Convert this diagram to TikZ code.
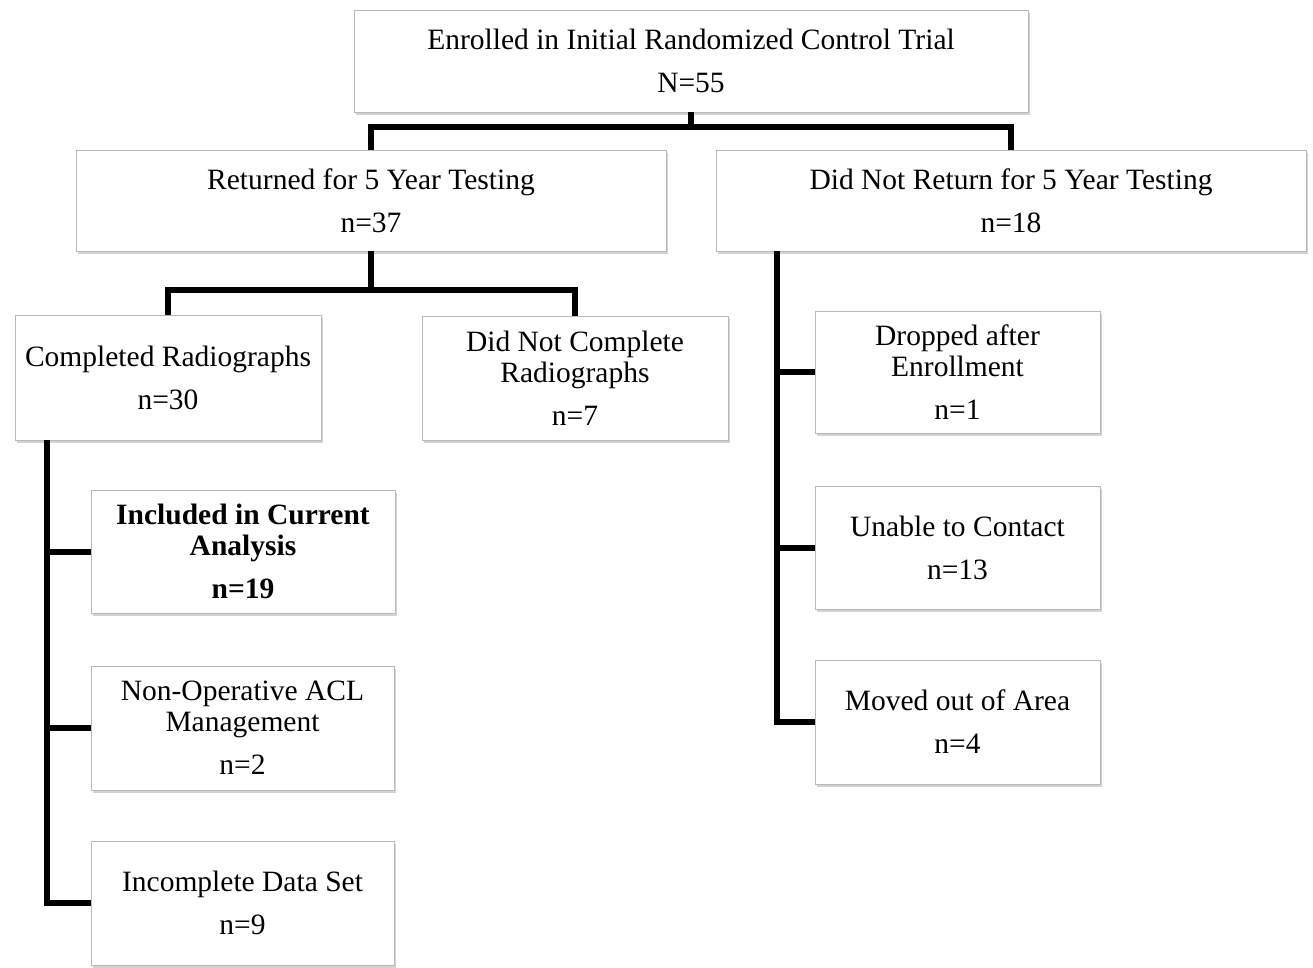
\documentclass[tikz,border=0pt]{standalone}
\usepackage{fontspec}
\setmainfont{Liberation Serif}
\usetikzlibrary{shadows}
\tikzset{
  box/.style={draw=gray!55, line width=0.8pt, fill=white, inner sep=0pt, align=center,
    font=\fontsize{29.5}{31}\selectfont,
    drop shadow={shadow xshift=2pt, shadow yshift=-3pt, opacity=0.35, fill=gray}},
  conn/.style={draw=black, line width=6pt}
}
\newcommand{\bx}[7]{% name x1 y1 x2 y2 text extra
  \node[box, minimum width={#4-#2}, minimum height={#5-#3}, #7] (#1) at ({(#2+#4)/2},{(#3+#5)/2}) {#6};}
\begin{document}
\begin{tikzpicture}[x=1pt,y=-1pt]
\useasboundingbox (0,0) rectangle (1313,967);
% boxes
\bx{top}{354}{10}{1028}{112}{Enrolled in Initial Randomized Control Trial\\[12pt]N=55}{}
\bx{ret}{76}{150}{666}{251}{Returned for 5 Year Testing\\[12pt]n=37}{}
\bx{dnr}{716}{150}{1306}{251}{Did Not Return for 5 Year Testing\\[12pt]n=18}{}
\bx{comp}{15}{315}{321}{440}{Completed Radiographs\\[12pt]n=30}{}
\bx{dnc}{422}{316}{728}{440}{Did Not Complete\\Radiographs\\[12pt]n=7}{}
\bx{drop}{815}{311}{1100}{433}{Dropped after\\Enrollment\\[12pt]n=1}{}
\bx{unab}{815}{486}{1100}{609}{Unable to Contact\\[12pt]n=13}{}
\bx{moved}{815}{660}{1100}{784}{Moved out of Area\\[12pt]n=4}{}
\bx{incl}{91}{490}{395}{613}{Included in Current\\Analysis\\[12pt]n=19}{font=\fontsize{29.5}{31}\selectfont\bfseries}
\bx{nonop}{91}{666}{394}{790}{Non-Operative ACL\\Management\\[12pt]n=2}{}
\bx{incdata}{91}{841}{394}{965}{Incomplete Data Set\\[12pt]n=9}{}
% junction coordinates
\coordinate (j1) at (691,127);
\coordinate (j2) at (371,290);
\coordinate (v1) at (777,0);
\coordinate (v2) at (47,0);
% connectors
\draw[conn] (top.south) -- (j1);
\draw[conn] (ret.north) |- (j1) -| (dnr.north);
\draw[conn] (ret.south) -- (j2);
\draw[conn] (comp.north) |- (j2) -| (dnc.north);
\draw[conn] (dnr.south -| v1) |- (moved.west);
\draw[conn] (drop.west) -- (drop.west -| v1);
\draw[conn] (unab.west) -- (unab.west -| v1);
\draw[conn] (comp.south -| v2) |- (incdata.west);
\draw[conn] (incl.west) -- (incl.west -| v2);
\draw[conn] (nonop.west) -- (nonop.west -| v2);
\end{tikzpicture}
\end{document}
